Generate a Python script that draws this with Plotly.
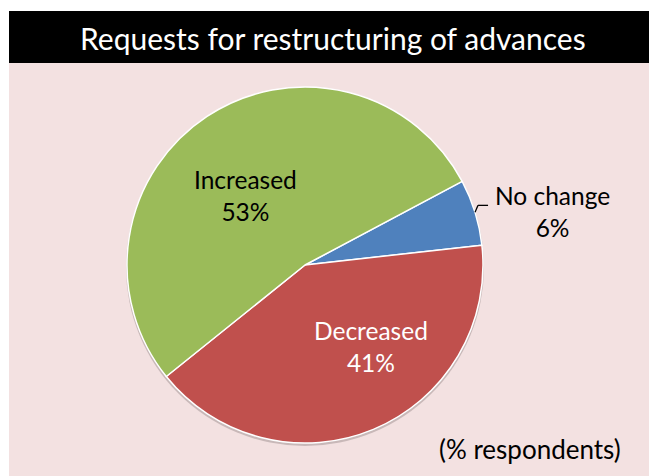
import math
import plotly.graph_objects as go

# Survey responses (share of respondents, %)
categories = ["No change", "Decreased", "Increased"]
values = [6, 41, 53]
colors = ["#4F81BD", "#C0504D", "#9BBB59"]
label_colors = ["#000000", "#FFFFFF", "#000000"]

TITLE = "Requests for restructuring of advances"
NOTE = "(% respondents)"

W, H = 649, 476
FONT = "Lato"


def px(x):
    return x / W


def py(y):
    return 1 - y / H


# pie geometry in pixels
cx, cy, r = 305, 265, 178
rotation = 62

fig = go.Figure(
    go.Pie(
        labels=categories,
        values=values,
        sort=False,
        direction="clockwise",
        rotation=rotation,
        marker=dict(colors=colors, line=dict(color="white", width=1.5)),
        textinfo="none",
        hoverinfo="label+percent",
        domain=dict(
            x=[px(cx - r), px(cx + r)],
            y=[py(cy + r), py(cy - r)],
        ),
        showlegend=False,
    )
)

# label block centres (pixels)
label_pos = {
    "Increased": (245, 195),
    "Decreased": (371, 346),
    "No change": (552, 211),
}

total = sum(values)
annotations = []
for cat, val, col in zip(categories, values, label_colors):
    lx, ly = label_pos[cat]
    annotations.append(
        dict(
            x=px(lx), y=py(ly), xref="paper", yref="paper",
            text=f"{cat}<br>{round(100 * val / total)}%",
            showarrow=False, xanchor="center", yanchor="middle",
            font=dict(family=FONT, size=24.5, color=col),
        )
    )

annotations.append(
    dict(
        x=px(333), y=py(38), xref="paper", yref="paper",
        text=TITLE, showarrow=False, xanchor="center", yanchor="middle",
        font=dict(family=FONT, size=30, color="white"),
    )
)
annotations.append(
    dict(
        x=px(530), y=py(449), xref="paper", yref="paper",
        text=NOTE, showarrow=False, xanchor="center", yanchor="middle",
        font=dict(family=FONT, size=26, color="black"),
    )
)

# leader line for the small slice, starting at its mid angle on the rim
start = rotation + 360 * 0 / total
mid = start + 360 * values[0] / total / 2
ex = cx + r * math.sin(math.radians(mid))
ey = cy - r * math.cos(math.radians(mid))

shapes = [
    # pink chart area
    dict(type="rect", xref="paper", yref="paper", x0=px(9), x1=1, y0=0, y1=py(63),
         fillcolor="#F3E1E1", line=dict(width=0), layer="below"),
    # black title band
    dict(type="rect", xref="paper", yref="paper", x0=px(9), x1=1, y0=py(63), y1=py(11),
         fillcolor="black", line=dict(width=0), layer="below"),
    # soft shadow under the pie
    dict(type="circle", xref="paper", yref="paper",
         x0=px(cx - r - 1), x1=px(cx + r + 1), y0=py(cy + r + 3), y1=py(cy - r + 1),
         fillcolor="rgba(120,110,110,0.35)", line=dict(width=0), layer="below"),
    dict(type="line", xref="paper", yref="paper",
         x0=px(ex), y0=py(ey), x1=px(ex + 3), y1=py(ey - 7),
         line=dict(color="black", width=1.3)),
    dict(type="line", xref="paper", yref="paper",
         x0=px(ex + 3), y0=py(ey - 7), x1=px(ex + 13), y1=py(ey - 7),
         line=dict(color="black", width=1.3)),
]

fig.update_layout(
    width=W, height=H,
    margin=dict(l=0, r=0, t=0, b=0),
    paper_bgcolor="white",
    plot_bgcolor="white",
    annotations=annotations,
    shapes=shapes,
)

fig.write_html("out.html")
